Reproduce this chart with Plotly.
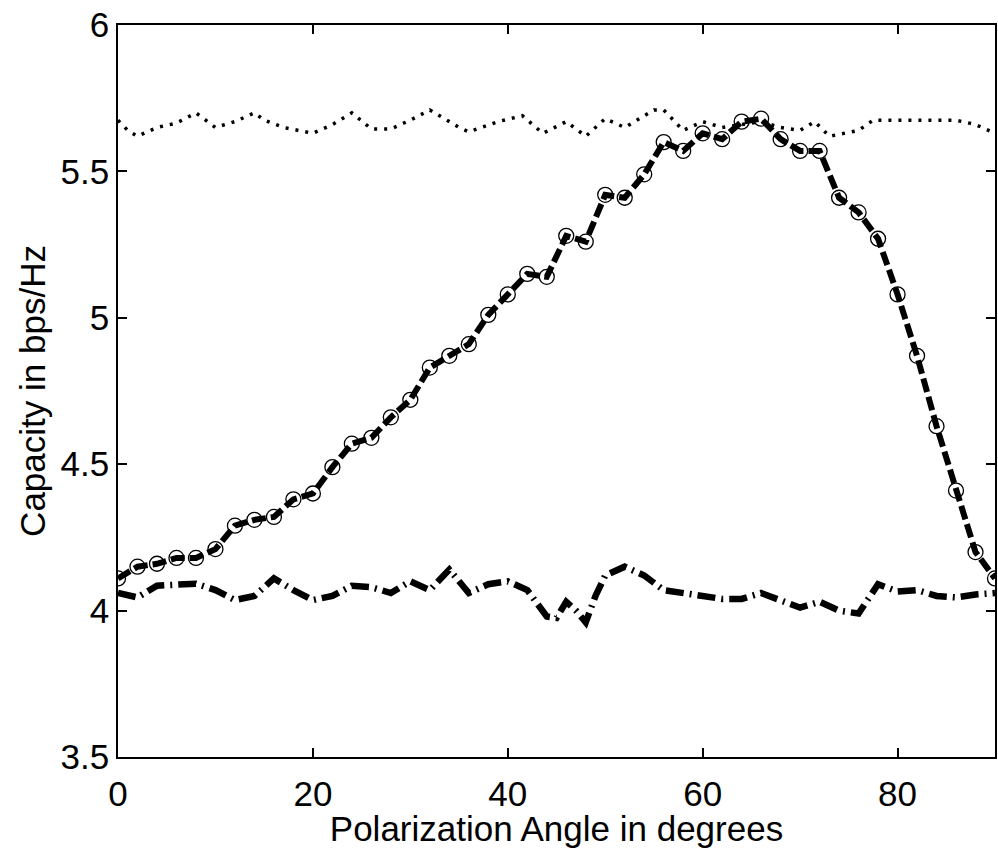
import plotly.graph_objects as go

# ---- data ----
angle_mid = [0, 2, 4, 6, 8, 10, 12, 14, 16, 18, 20, 22, 24, 26, 28, 30, 32, 34, 36, 38, 40, 42, 44,
             46, 48, 50, 52, 54, 56, 58, 60, 62, 64, 66, 68, 70, 72, 74, 76, 78, 80, 82, 84, 86, 88, 90]
cap_mid = [4.11, 4.15, 4.16, 4.18, 4.18, 4.21, 4.29, 4.31, 4.32, 4.38, 4.40, 4.49, 4.57, 4.59, 4.66,
           4.72, 4.83, 4.87, 4.91, 5.01, 5.08, 5.15, 5.14, 5.28, 5.26, 5.42, 5.41, 5.49, 5.60, 5.57,
           5.63, 5.61, 5.67, 5.68, 5.61, 5.57, 5.57, 5.41, 5.36, 5.27, 5.08, 4.87, 4.63, 4.41, 4.20, 4.11]

angle_top = [0, 1, 2, 3, 4, 6, 8, 10, 12, 14, 15, 17, 20, 22, 24, 26, 28, 30, 32, 34, 35, 36, 39,
             41.5, 43.6, 46, 48, 50, 52, 55, 56, 58, 60, 62, 64, 66, 68, 70, 71.5, 73, 76, 77.5,
             80, 84, 86, 88, 90]
cap_top = [5.675, 5.64, 5.62, 5.635, 5.65, 5.665, 5.70, 5.65, 5.67, 5.70, 5.675, 5.65, 5.63, 5.66,
           5.70, 5.645, 5.645, 5.675, 5.71, 5.67, 5.65, 5.635, 5.67, 5.69, 5.63, 5.67, 5.62, 5.68,
           5.65, 5.71, 5.71, 5.64, 5.67, 5.65, 5.66, 5.67, 5.65, 5.64, 5.67, 5.62, 5.64, 5.675,
           5.675, 5.675, 5.675, 5.66, 5.63]

angle_low = [0, 2, 4, 6, 8, 10, 12, 14, 16, 18, 20, 22, 24, 26, 28, 30, 32, 34, 36, 38, 40, 42, 44,
             45, 46, 47, 48, 49, 50, 52, 54, 56, 58, 60, 62, 64, 66, 68, 70, 72, 74, 76, 78, 80,
             82, 84, 86, 88, 90]
cap_low = [4.06, 4.045, 4.085, 4.087, 4.092, 4.07, 4.036, 4.05, 4.11, 4.07, 4.036, 4.05, 4.085,
           4.08, 4.06, 4.10, 4.07, 4.14, 4.06, 4.09, 4.10, 4.07, 3.98, 3.975, 4.03, 4.00, 3.96,
           4.05, 4.12, 4.15, 4.12, 4.07, 4.06, 4.055, 4.04, 4.04, 4.06, 4.035, 4.01, 4.03, 4.00,
           3.99, 4.09, 4.065, 4.07, 4.05, 4.045, 4.055, 4.06]

x_ticks = [0, 20, 40, 60, 80]
y_ticks = [3.5, 4, 4.5, 5, 5.5, 6]
y_tick_labels = ["3.5", "4", "4.5", "5", "5.5", "6"]

FONT = "Liberation Sans, Arial, sans-serif"

fig = go.Figure()

fig.add_trace(go.Scatter(
    x=angle_top, y=cap_top, mode="lines",
    line=dict(color="black", width=3.5, dash="3px,7px"),
    showlegend=False))

fig.add_trace(go.Scatter(
    x=angle_low, y=cap_low, mode="lines",
    line=dict(color="black", width=6.5, dash="18px,6px,2px,6px"),
    showlegend=False))

fig.add_trace(go.Scatter(
    x=angle_mid, y=cap_mid, mode="lines",
    line=dict(color="black", width=6, dash="14px,5px"),
    showlegend=False))

fig.add_trace(go.Scatter(
    x=angle_mid, y=cap_mid, mode="markers",
    marker=dict(symbol="circle-open", size=15, color="black", line=dict(width=1.3)),
    showlegend=False))

axis_common = dict(
    showline=True, linecolor="black", linewidth=1.5, mirror="ticks",
    ticks="inside", ticklen=9, tickwidth=1.5, tickcolor="black",
    showgrid=False, zeroline=False,
    tickfont=dict(family=FONT, size=35, color="black"),
)

fig.update_xaxes(
    range=[0, 90], tickvals=x_ticks, ticktext=[str(v) for v in x_ticks],
    title=dict(text="Polarization Angle in degrees", font=dict(family=FONT, size=35, color="black"),
               standoff=0),
    ticklabelstandoff=5,
    **axis_common)

fig.update_yaxes(
    range=[3.5, 6], tickvals=y_ticks, ticktext=y_tick_labels,
    title=dict(text="Capacity in bps/Hz", font=dict(family=FONT, size=35, color="black"),
               standoff=4),
    ticklabelstandoff=0,
    **axis_common)

fig.update_layout(
    width=998, height=848,
    margin=dict(l=118, r=1, t=25, b=91),
    plot_bgcolor="white", paper_bgcolor="white",
    font=dict(family=FONT, color="black"),
)

fig.write_html("out.html")
